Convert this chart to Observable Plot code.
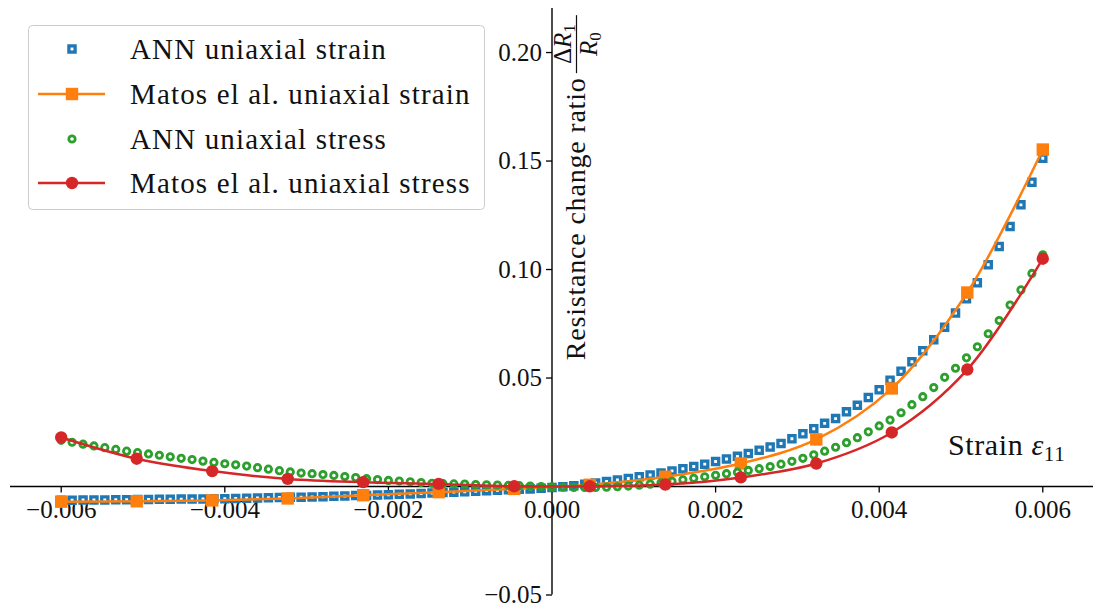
<!DOCTYPE html>
<html><head><meta charset="utf-8">
<script src="https://cdn.jsdelivr.net/npm/d3@7"></script>
<script src="https://cdn.jsdelivr.net/npm/@observablehq/plot@0.6"></script>
<style>body{margin:0;background:#fff} #chart{width:1097px;height:609px}</style>
</head><body><div id="chart"></div>
<script>
// ANN evaluation strains (91 points)
const annStrain = [-0.006,-0.005867,-0.005733,-0.0056,-0.005467,-0.005333,-0.0052,-0.005067,-0.004933,-0.0048,
-0.004667,-0.004533,-0.0044,-0.004267,-0.004133,-0.004,-0.003867,-0.003733,-0.0036,-0.003467,
-0.003333,-0.0032,-0.003067,-0.002933,-0.0028,-0.002667,-0.002533,-0.0024,-0.002267,-0.002133,
-0.002,-0.001867,-0.001733,-0.0016,-0.001467,-0.001333,-0.0012,-0.001067,-0.000933,-0.0008,
-0.000667,-0.000533,-0.0004,-0.000267,-0.000133,0,0.000133,0.000267,0.0004,0.000533,
0.000667,0.0008,0.000933,0.001067,0.0012,0.001333,0.001467,0.0016,0.001733,0.001867,
0.002,0.002133,0.002267,0.0024,0.002533,0.002667,0.0028,0.002933,0.003067,0.0032,
0.003333,0.003467,0.0036,0.003733,0.003867,0.004,0.004133,0.004267,0.0044,0.004533,
0.004667,0.0048,0.004933,0.005067,0.0052,0.005333,0.005467,0.0056,0.005733,0.005867,0.006];
const annUniaxialStrain = [-0.0063,-0.0063,-0.0062,-0.0062,-0.0062,-0.0061,-0.0061,-0.0060,-0.0060,-0.0059,
-0.0059,-0.0058,-0.0058,-0.0057,-0.0056,-0.0056,-0.0055,-0.0054,-0.0053,-0.0052,
-0.0051,-0.0050,-0.0049,-0.0048,-0.0047,-0.0045,-0.0044,-0.0042,-0.0041,-0.0039,
-0.0038,-0.0036,-0.0034,-0.0032,-0.0030,-0.0028,-0.0026,-0.0024,-0.0022,-0.0019,
-0.0017,-0.0015,-0.0013,-0.0011,-0.0008,-0.0005,-0.0001,0.0004,0.0010,0.0016,
0.0023,0.0030,0.0037,0.0045,0.0053,0.0062,0.0072,0.0082,0.0092,0.0103,
0.0115,0.0127,0.0139,0.0152,0.0167,0.0182,0.0198,0.0220,0.0243,0.0266,
0.0291,0.0313,0.0344,0.0374,0.0410,0.0446,0.0490,0.0531,0.0575,0.0626,
0.0676,0.0734,0.0800,0.0865,0.0939,0.1022,0.1106,0.1198,0.1298,0.1402,0.1513];
const annUniaxialStress = [0.0213,0.0204,0.0195,0.0187,0.0179,0.0171,0.0163,0.0156,0.0150,0.0144,
0.0137,0.0130,0.0124,0.0117,0.0111,0.0105,0.0100,0.0094,0.0087,0.0080,
0.0073,0.0067,0.0062,0.0059,0.0055,0.0051,0.0046,0.0041,0.0036,0.0032,
0.0028,0.0025,0.0022,0.0018,0.0015,0.0013,0.0012,0.0011,0.0009,0.0008,
0.0007,0.0005,0.0004,0.0002,0.0000,-0.0002,-0.0003,-0.0004,-0.0004,-0.0004,
-0.0003,-0.0001,0.0002,0.0006,0.0011,0.0017,0.0024,0.0031,0.0038,0.0045,
0.0052,0.0059,0.0066,0.0074,0.0082,0.0092,0.0103,0.0116,0.0130,0.0146,
0.0163,0.0181,0.0202,0.0225,0.0252,0.0279,0.0306,0.0340,0.0377,0.0414,
0.0456,0.0503,0.0545,0.0593,0.0644,0.0704,0.0765,0.0836,0.0906,0.0982,0.1068];

// Matos et al. (14 points)
const matosStrainX = [-0.006,-0.005077,-0.004154,-0.003231,-0.002308,-0.001385,-0.000462,0.000462,0.001385,0.002308,0.003231,0.004154,0.005077,0.006];
const matosUniaxialStrain = [-0.0070,-0.0068,-0.0064,-0.0055,-0.0040,-0.0026,-0.0011,0.0008,0.0045,0.0106,0.0217,0.0452,0.0894,0.1553];
const matosUniaxialStress = [0.0226,0.0128,0.0071,0.0035,0.0020,0.0012,0.0001,0.0001,0.0009,0.0042,0.0106,0.0249,0.0539,0.1050];

const xTicks = [-0.006,-0.004,-0.002,0,0.002,0.004,0.006];
const yTicks = [-0.05,0.05,0.10,0.15,0.20];
const seriesNames = ["ANN uniaxial strain","Matos el al. uniaxial strain","ANN uniaxial stress","Matos el al. uniaxial stress"];
const colors = ["#1f77b4","#ff7f0e","#2ca02c","#d62728"];

const ann = annStrain.map((x,i)=>({x, strain: annUniaxialStrain[i], stress: annUniaxialStress[i]}));
const matos = matosStrainX.map((x,i)=>({x, strain: matosUniaxialStrain[i], stress: matosUniaxialStress[i]}));

const FONT = "'Liberation Serif', serif";
const tickDown = {draw(ctx){ ctx.moveTo(0,0); ctx.lineTo(0,6); }};
const tickLeft = {draw(ctx){ ctx.moveTo(0,0); ctx.lineTo(-6,0); }};
const fmtX = d3.format(".3f"), fmtY = d3.format(".2f");

const plot = Plot.plot({
  width: 1097, height: 609,
  marginTop: 8, marginBottom: 14.5, marginLeft: 10, marginRight: 4,
  x: {domain: [-0.00662, 0.00662], axis: null},
  y: {domain: [-0.05, 0.2203], axis: null},
  style: {fontFamily: FONT, background: "white", overflow: "visible"},
  marks: [
    Plot.ruleY([0], {stroke: "black", strokeWidth: 1.4}),
    Plot.ruleX([0], {stroke: "black", strokeWidth: 1.4}),
    Plot.dot(xTicks, {x: d=>d, y: ()=>0, symbol: tickDown, r: 1, fill: "none", stroke: "black", strokeWidth: 1.3}),
    Plot.dot(yTicks, {x: ()=>0, y: d=>d, symbol: tickLeft, r: 1, fill: "none", stroke: "black", strokeWidth: 1.3}),
    Plot.text(xTicks, {x: d=>d, y: ()=>0, text: d=>fmtX(d), dy: 23, fontSize: 25, fill: "#111"}),
    Plot.text(yTicks, {x: ()=>0, y: d=>d, text: d=>fmtY(d), dx: -10, textAnchor: "end", fontSize: 25, fill: "#111"}),
    Plot.dot(ann, {x: "x", y: "strain", symbol: "square", r: 3.5, fill: "none", stroke: colors[0], strokeWidth: 3.3}),
    Plot.line(matos, {x: "x", y: "strain", stroke: colors[1], strokeWidth: 2.5, curve: "catmull-rom"}),
    Plot.dot(matos, {x: "x", y: "strain", symbol: "square", r: 7, fill: colors[1]}),
    Plot.dot(ann, {x: "x", y: "stress", symbol: "circle", r: 3.2, fill: "none", stroke: colors[2], strokeWidth: 2.8}),
    Plot.line(matos, {x: "x", y: "stress", stroke: colors[3], strokeWidth: 2.5, curve: "catmull-rom"}),
    Plot.dot(matos, {x: "x", y: "stress", symbol: "circle", r: 6.2, fill: colors[3]})
  ]
});
document.getElementById("chart").appendChild(plot);

const svg = d3.select(plot);
const xs = plot.scale("x"), ys = plot.scale("y");
const x0 = xs.apply(0), y0 = ys.apply(0);

// x label
const xl = svg.append("text").attr("x", xs.apply(0.006) + 23).attr("y", y0 - 31)
  .attr("text-anchor", "end").attr("font-family", FONT).attr("font-size", 30).attr("letter-spacing", 0.6).attr("fill", "#111");
xl.append("tspan").text("Strain ");
xl.append("tspan").attr("font-style", "italic").text("ε");
xl.append("tspan").attr("font-size", 21).attr("dy", 6).text("11");

// y label (rotated) with fraction
const yl = svg.append("g").attr("transform", `translate(${x0 + 33},${ys.apply(0.058)}) rotate(-90)`)
  .attr("font-family", FONT).attr("fill", "#111");
yl.append("text").attr("x", 0).attr("y", 0).attr("text-anchor", "start").attr("font-size", 28).attr("letter-spacing", 0.8).text("Resistance change ratio");
const fx = 316;
const num = yl.append("text").attr("x", fx).attr("y", -14).attr("text-anchor", "middle").attr("font-size", 25);
num.append("tspan").text("Δ");
num.append("tspan").attr("font-style", "italic").text("R");
num.append("tspan").attr("font-size", 17).attr("dy", 4).text("1");
yl.append("line").attr("x1", fx - 29).attr("x2", fx + 29).attr("y1", -8).attr("y2", -8).attr("stroke", "#111").attr("stroke-width", 1.2);
const den = yl.append("text").attr("x", fx).attr("y", 12).attr("text-anchor", "middle").attr("font-size", 25);
den.append("tspan").attr("font-style", "italic").text("R");
den.append("tspan").attr("font-size", 17).attr("dy", 4).text("0");

// legend
const lg = svg.append("g").attr("font-family", FONT);
lg.append("rect").attr("x", 28.5).attr("y", 25.5).attr("width", 456).attr("height", 184).attr("rx", 4)
  .attr("fill", "white").attr("fill-opacity", 0.85).attr("stroke", "#cccccc");
const rowY = [49, 94, 139, 183];
seriesNames.forEach((name, i) => {
  const cy = rowY[i], cx = 72;
  if (i === 1 || i === 3) {
    lg.append("line").attr("x1", 38).attr("x2", 105).attr("y1", cy).attr("y2", cy).attr("stroke", colors[i]).attr("stroke-width", 2.5);
  }
  if (i === 0) lg.append("rect").attr("x", cx - 3.1).attr("y", cy - 3.1).attr("width", 6.2).attr("height", 6.2).attr("fill", "none").attr("stroke", colors[0]).attr("stroke-width", 3.3);
  if (i === 1) lg.append("rect").attr("x", cx - 6.2).attr("y", cy - 6.2).attr("width", 12.4).attr("height", 12.4).attr("fill", colors[1]);
  if (i === 2) lg.append("circle").attr("cx", cx).attr("cy", cy).attr("r", 3.2).attr("fill", "none").attr("stroke", colors[2]).attr("stroke-width", 2.8);
  if (i === 3) lg.append("circle").attr("cx", cx).attr("cy", cy).attr("r", 6.2).attr("fill", colors[3]);
  lg.append("text").attr("x", 130).attr("y", cy + 10).attr("text-anchor", "start").attr("font-size", 29).attr("letter-spacing", 1.15).attr("fill", "#111").text(name);
});
</script>
</body></html>
